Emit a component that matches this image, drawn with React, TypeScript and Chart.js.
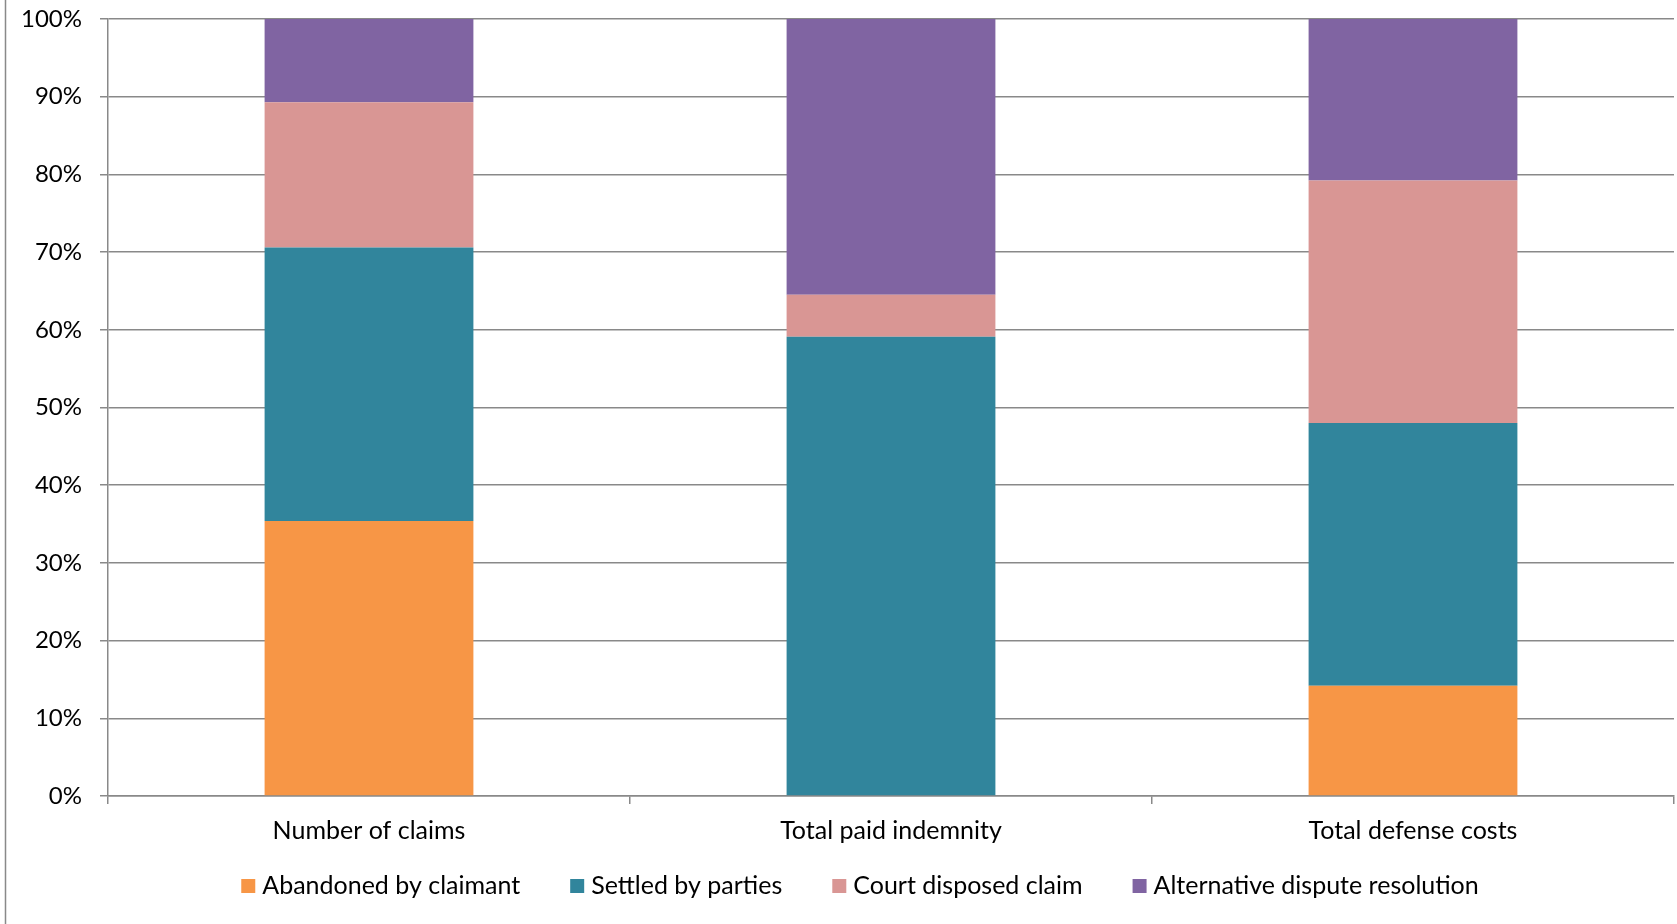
import React, { useEffect, useRef } from "react";
import { Chart, registerables } from "chart.js";

Chart.register(...registerables);

// Share of claims by resolution type, in percent of each category
const categories = ["Number of claims", "Total paid indemnity", "Total defense costs"];
const abandonedByClaimant = [35.4, 0, 14.2];
const settledByParties = [35.2, 59.1, 33.8];
const courtDisposedClaim = [18.7, 5.4, 31.2];
const alternativeDisputeResolution = [10.7, 35.5, 20.8];

const seriesLabels = [
  "Abandoned by claimant",
  "Settled by parties",
  "Court disposed claim",
  "Alternative dispute resolution",
];
const seriesColors = ["#F79646", "#31859C", "#D99694", "#8064A2"];
const seriesValues = [
  abandonedByClaimant,
  settledByParties,
  courtDisposedClaim,
  alternativeDisputeResolution,
];

const yMin = 0;
const yMax = 100;
const yStep = 10;

const FONT_FAMILY = "Lato";
const FONT_SIZE = 25;
const Y_FONT_SIZE = 24;
const AXIS_GRAY = "#898989";
const TEXT_COLOR = "#000000";

// Thin frame line along the left edge of the chart area
const frameLine = {
  id: "frameLine",
  afterDraw(chart: any) {
    const { ctx } = chart;
    ctx.save();
    ctx.strokeStyle = AXIS_GRAY;
    ctx.lineWidth = 1.5;
    ctx.beginPath();
    ctx.moveTo(5.5, 0);
    ctx.lineTo(5.5, chart.height);
    ctx.stroke();
    ctx.restore();
  },
};

// Single-row legend under the axis, built from the datasets
const LEGEND_CENTER_X = 860;
const LEGEND_Y = 886;
const LEGEND_BOX = 14;
const LEGEND_BOX_GAP = 7;
const LEGEND_ITEM_GAP = 50;

const bottomLegend = {
  id: "bottomLegend",
  afterDraw(chart: any) {
    const { ctx } = chart;
    const items = chart.data.datasets.map((ds: any) => ({
      text: ds.label as string,
      color: ds.backgroundColor as string,
    }));
    ctx.save();
    ctx.font = `${FONT_SIZE}px ${FONT_FAMILY}`;
    ctx.textBaseline = "middle";
    ctx.textAlign = "left";
    const widths = items.map(
      (it: any) => LEGEND_BOX + LEGEND_BOX_GAP + ctx.measureText(it.text).width
    );
    const total =
      widths.reduce((a: number, b: number) => a + b, 0) +
      LEGEND_ITEM_GAP * (items.length - 1);
    let x = LEGEND_CENTER_X - total / 2;
    items.forEach((it: any, i: number) => {
      ctx.fillStyle = it.color;
      ctx.fillRect(x, LEGEND_Y - LEGEND_BOX / 2, LEGEND_BOX, LEGEND_BOX);
      ctx.fillStyle = TEXT_COLOR;
      ctx.fillText(it.text, x + LEGEND_BOX + LEGEND_BOX_GAP, LEGEND_Y);
      x += widths[i] + LEGEND_ITEM_GAP;
    });
    ctx.restore();
  },
};

export default function App() {
  const canvasRef = useRef<HTMLCanvasElement | null>(null);

  useEffect(() => {
    const canvas = canvasRef.current;
    if (!canvas) return;

    const chart = new Chart(canvas, {
      type: "bar",
      data: {
        labels: categories,
        datasets: seriesLabels.map((label, i) => ({
          label,
          data: seriesValues[i],
          backgroundColor: seriesColors[i],
          borderWidth: 0,
          categoryPercentage: 0.4,
          barPercentage: 1,
        })),
      },
      options: {
        responsive: false,
        animation: false,
        devicePixelRatio: 1,
        layout: {
          padding: { left: 0, right: 3, top: 19, bottom: 0 },
        },
        plugins: {
          tooltip: { enabled: false },
          legend: { display: false },
        },
        scales: {
          x: {
            stacked: true,
            offset: true,
            afterFit(scale: any) {
              scale.height = 128;
              scale.paddingLeft = 0;
              scale.paddingRight = 0;
            },
            grid: {
              offset: true,
              drawOnChartArea: false,
              drawTicks: true,
              tickLength: 8,
              color: AXIS_GRAY,
              lineWidth: 1.5,
            },
            border: { display: true, color: AXIS_GRAY, width: 1.5 },
            ticks: {
              padding: 12,
              color: TEXT_COLOR,
              font: { family: FONT_FAMILY, size: FONT_SIZE },
              maxRotation: 0,
              autoSkip: false,
            },
          },
          y: {
            stacked: true,
            min: yMin,
            max: yMax,
            afterFit(scale: any) {
              scale.width = 108;
              scale.paddingTop = 0;
              scale.paddingBottom = 0;
            },
            grid: {
              color: AXIS_GRAY,
              lineWidth: 1.5,
              tickLength: 8,
            },
            border: { display: true, color: AXIS_GRAY, width: 1.5 },
            ticks: {
              stepSize: yStep,
              padding: 18,
              color: TEXT_COLOR,
              font: { family: FONT_FAMILY, size: Y_FONT_SIZE },
              callback: (v: any) => `${v}%`,
            },
          },
        },
      },
      plugins: [frameLine, bottomLegend],
    });

    return () => chart.destroy();
  }, []);

  return (
    <div
      style={{
        position: "absolute",
        left: 0,
        top: 0,
        width: 1677,
        height: 924,
        overflow: "hidden",
        background: "#ffffff",
      }}
    >
      <canvas ref={canvasRef} width={1677} height={924} />
    </div>
  );
}
